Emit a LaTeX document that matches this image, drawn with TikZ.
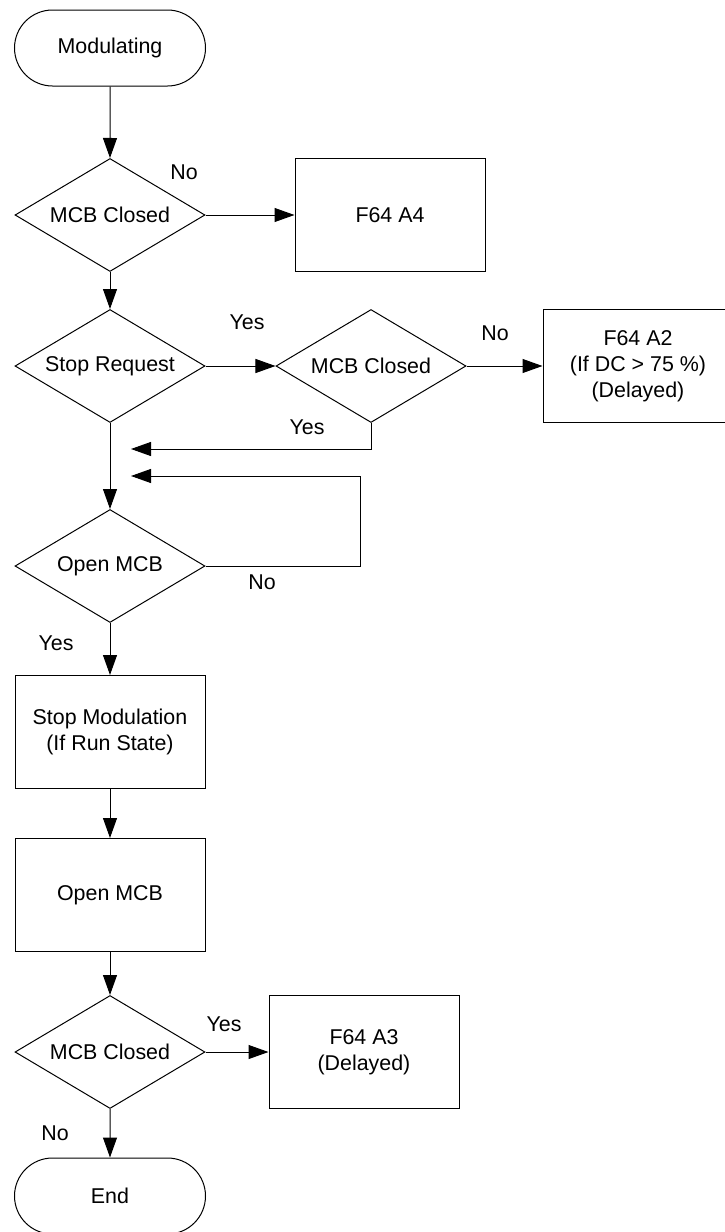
\documentclass[tikz,border=0pt]{standalone}
\usepackage{fontspec}
\setmainfont{Liberation Sans}
\usetikzlibrary{shapes.geometric,shapes.misc,arrows.meta}
\tikzset{
  term/.style={draw, rounded rectangle, minimum width=95.5pt, minimum height=38pt, inner sep=0pt},
  cond/.style={draw, diamond, aspect=1.7, minimum width=95pt, minimum height=56.5pt, inner sep=0pt},
  act/.style={draw, rectangle, minimum width=95pt, minimum height=56.5pt, inner sep=0pt, align=center},
  lbl/.style={inner sep=0pt}
}
\begin{document}
\begin{tikzpicture}[x=0.5pt,y=-0.5pt,line width=0.5pt,font=\fontsize{10.7}{13}\selectfont]
  \useasboundingbox (0,0) rectangle (724,1232);
  \draw
    (110,48) node[term] (mod){Modulating}
    (110,215) node[cond] (q1){MCB Closed}
    (390,215) node[act] (a4){F64 A4}
    (110,366) node[cond] (q2){Stop Request}
    (371,366) node[cond] (q3){MCB Closed}
    (638,366) node[act] (a2){F64 A2\\(If DC > 75 \%)\\(Delayed)}
    (110,566) node[cond] (q4){Open MCB}
    (110,732) node[act] (stop){Stop Modulation\\(If Run State)}
    (110,895) node[act] (open){Open MCB}
    (110,1052) node[cond] (q5){MCB Closed}
    (364,1052) node[act] (a3){F64 A3\\(Delayed)}
    (110,1196) node[term] (end){End};
  \draw
    (184,172) node[lbl] (no1){No}
    (247,322) node[lbl] (yes1){Yes}
    (495,333) node[lbl] (no2){No}
    (307,427) node[lbl] (yes2){Yes}
    (262,582) node[lbl] (no3){No}
    (56,643) node[lbl] (yes3){Yes}
    (224,1024) node[lbl] (yes4){Yes}
    (55,1133) node[lbl] (no4){No};
  \coordinate (j1) at (131,449);
  \coordinate (j2) at (131,476);
  \coordinate (k2) at (360,476);
  \begin{scope}[-{Triangle[length=10pt,width=7pt]}]
    \draw (mod) to (q1);
    \draw (q1) to (a4);
    \draw (q1) to (q2);
    \draw (q2) to (q3);
    \draw (q3) to (a2);
    \draw (q3.south) |- (j1);
    \draw (q2) to (q4);
    \draw (q4.east) -| (k2) -- (j2);
    \draw (q4) to (stop);
    \draw (stop) to (open);
    \draw (open) to (q5);
    \draw (q5) to (a3);
    \draw (q5) to (end);
  \end{scope}
\end{tikzpicture}
\end{document}
